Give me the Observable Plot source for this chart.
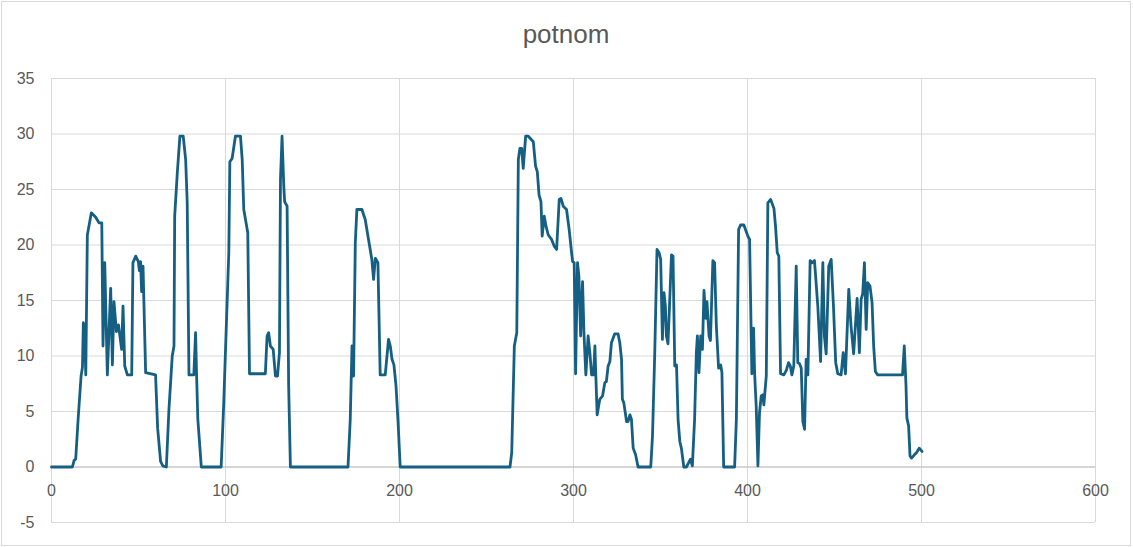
<!DOCTYPE html>
<html>
<head>
<meta charset="utf-8">
<script src="https://cdn.jsdelivr.net/npm/d3@7"></script>
<script src="https://cdn.jsdelivr.net/npm/@observablehq/plot@0.6"></script>
<style>
  html, body { margin: 0; padding: 0; background: #fff; }
  #chart {
    position: absolute; left: 1px; top: 1px;
    width: 1130px; height: 545px; box-sizing: border-box;
    border: 1px solid #d9d9d9; background: #fff;
    font-family: "Liberation Sans", Arial, sans-serif;
  }
  #title {
    height: 56px; box-sizing: border-box; padding-top: 19px;
    font-size: 26px; line-height: 26px; color: #595959; text-align: center;
  }
  #plot svg { display: block; }
</style>
</head>
<body>
<div id="chart">
  <div id="title"></div>
  <div id="plot"></div>
</div>
<script>
const chartTitle = "potnom";
const xTicks = [0, 100, 200, 300, 400, 500, 600];
const yTicks = [-5, 0, 5, 10, 15, 20, 25, 30, 35];

// read-off vertices of the series (x position, value)
const xs = [
  0, 12, 13, 13.9, 15.3, 17.0, 17.8, 18.3, 19.0, 19.7, 20.6, 22.9, 25.4, 27.3, 28.9,
  29.6, 30.6, 32.1, 34.0, 35.0, 35.9, 37.3, 38.5, 40.3, 41.1, 42.1, 43.6, 46.1,
  46.8, 48.4, 49.9, 50.5, 51.2, 51.8, 52.6, 54.1, 59.8, 61.0, 62.7, 64.0, 66.0,
  67.5, 69.4, 70.4, 70.8, 72.3, 73.8, 75.7, 77.1, 78.0, 79.0, 81.8, 82.8, 83.4, 84.1, 86.1,
  97.5, 99.0, 100.6, 101.9, 102.5, 103.8, 105.7, 108.6, 109.6, 110.5, 112.8, 113.8,
  122.9, 123.9, 124.8, 125.8, 127.4, 128.7, 129.9,
  131.0, 131.6, 132.5, 133.5, 134.0, 135.4, 136.3, 137.3,
  170.4, 171.7, 172.7, 173.6, 174.6, 175.5, 178.4, 180.3, 182.2, 184.1, 185.1, 186.1, 187.6,
  188.9, 191.8, 193.7, 194.7, 195.7, 196.8, 198.0, 199.2, 200.4,
  263.5, 264.5, 266.0, 267.4, 268.3, 269.2, 270.2, 271.1, 272.5, 274.0, 276.9, 278.2, 279.2,
  280.2, 281.3, 282.0, 283.2, 284.2, 285.5, 287.4, 288.9, 290.3, 291.8, 292.8, 294.1, 296.0,
  297.5, 298.9, 299.5, 300.4, 301.2, 302.3, 303.1, 304.1, 305.2, 306.0, 307.1, 308.4, 309.4,
  310.4, 311.5, 312.3, 312.8, 313.6, 315.1, 316.7, 318.0, 318.9, 319.9, 320.9, 321.8, 323.7,
  325.6, 326.6, 327.6, 328.1, 328.9, 330.5, 331.4, 332.4, 333.3, 334.3, 335.7, 337.1,
  344.4, 345.4, 346.7, 348.0, 349.2, 350.1, 351.1, 352.0, 352.8, 353.4, 354.3, 355.3, 356.3,
  357.2, 358.2, 359.2, 360.1, 361.1, 362.0, 363.4, 364.9, 366.2, 367.2, 368.3, 369.6, 370.6,
  371.2, 372.1, 373.1, 374.1, 375.0, 376.0, 376.7, 377.9, 378.7, 380.1, 381.1, 382.1, 383.4,
  384.6, 385.3, 386.3, 392.6, 393.6, 394.9, 396.0, 397.9, 399.3, 400.2, 401.2, 402.5, 403.5,
  404.1, 405.0, 406.0, 406.9, 407.9, 408.8, 409.4, 410.8, 411.7, 413.3, 415.2, 416.1, 417.1,
  418.0, 419.0, 420.9, 422.3, 423.6, 424.6, 425.5, 426.6, 428.0, 428.9, 429.9, 430.9, 431.8,
  432.8, 433.7, 434.7, 436.0, 437.2, 438.5, 440.4, 442.0, 443.3, 444.2, 445.2, 446.7, 448.1,
  449.4, 450.7, 451.9, 453.8, 455.0, 456.3, 458.2, 459.5, 461.0, 463.0, 464.3, 465.3, 466.2,
  467.2, 468.2, 469.1, 470.4, 471.6, 472.5, 473.5, 474.8, 489.1, 490.1, 491.1, 491.6, 492.6,
  493.4, 494.3, 495.9, 497.2, 498.7, 500.3
];
const ys = [
  0, 0, 0.6, 0.7, 4.3, 8.2, 9.0, 13.0, 12.5, 8.3, 20.9, 22.9, 22.5, 22.0, 22.0,
  10.9, 18.4, 8.3, 16.1, 9.2, 14.9, 12.2, 12.8, 10.6, 14.5, 9.1, 8.3, 8.3,
  18.4, 19.0, 18.5, 17.7, 18.5, 15.8, 18.1, 8.5, 8.3, 3.5, 0.5, 0.1, 0,
  5.2, 10.0, 10.9, 22.6, 26.5, 29.8, 29.8, 27.7, 23.8, 8.3, 8.3, 12.1, 8.2, 4.3, 0,
  0, 5.8, 13.3, 19.3, 27.5, 27.8, 29.8, 29.8, 27.7, 23.2, 21.1, 8.4,
  8.4, 11.8, 12.1, 10.9, 10.6, 8.2, 8.2,
  10.3, 25.9, 29.8, 25.3, 23.9, 23.5, 7.3, 0,
  0, 4.3, 10.9, 8.2, 20.2, 23.2, 23.2, 22.3, 20.5, 18.7, 16.9, 18.8, 18.4,
  8.3, 8.3, 11.5, 10.9, 9.7, 9.2, 7.3, 4.0, 0,
  0, 1.3, 10.9, 12.1, 27.7, 28.7, 28.7, 26.9, 29.8, 29.8, 29.3, 27.1, 26.6,
  24.5, 23.9, 20.8, 22.6, 21.7, 20.9, 20.5, 19.9, 19.6, 24.1, 24.2, 23.5, 23.2,
  21.4, 19.3, 18.5, 18.4, 8.4, 18.4, 17.2, 11.8, 16.7, 12.1, 8.3, 11.8, 10.3,
  8.3, 8.3, 10.9, 8.4, 4.7, 6.1, 6.4, 7.6, 7.7, 9.1, 9.5, 11.2, 12.0,
  12.0, 11.2, 9.7, 6.1, 5.8, 4.1, 4.1, 4.7, 4.3, 1.7, 1.1, 0,
  0, 2.8, 10.3, 19.6, 19.3, 18.7, 11.5, 15.7, 14.5, 11.8, 11.1, 15.0, 19.1,
  19.0, 9.1, 9.2, 4.3, 2.3, 1.7, 0, 0, 0.4, 0.7, 0.1, 4.3, 10.3,
  11.8, 8.5, 11.8, 10.6, 15.9, 13.4, 14.9, 11.8, 11.4, 18.6, 18.4, 12.7, 8.9,
  9.2, 8.5, 0, 0, 4.3, 21.4, 21.8, 21.8, 21.2, 20.8, 20.5, 8.4, 12.5,
  8.4, 5.5, 0.1, 4.9, 6.4, 6.5, 5.6, 8.2, 23.8, 24.1, 23.3, 21.7, 19.3,
  19.0, 8.4, 8.3, 8.7, 9.4, 9.1, 8.3, 9.1, 18.1, 9.4, 9.3, 8.9, 4.1,
  3.4, 9.7, 8.3, 18.6, 18.4, 18.6, 14.5, 9.5, 18.4, 11.8, 10.2, 18.1, 18.7,
  14.5, 9.4, 8.4, 8.3, 10.3, 8.4, 16.0, 12.7, 10.2, 15.2, 10.3, 15.1, 15.6,
  18.4, 12.4, 16.6, 16.3, 14.8, 10.9, 8.6, 8.3, 8.3, 10.9, 7.3, 4.4, 3.7,
  1.0, 0.8, 1.1, 1.3, 1.7, 1.4
];

const data = xs.map((x, i) => ({x, y: ys[i]}));

document.getElementById("title").textContent = chartTitle;

const gridColor = "#d9d9d9";
const textColor = "#595959";

const chart = Plot.plot({
  width: 1128,
  height: 487,
  marginLeft: 49,
  marginRight: 35,
  marginTop: 20,
  marginBottom: 23,
  style: {fontFamily: '"Liberation Sans", Arial, sans-serif', background: "#fff", color: textColor},
  x: {domain: [0, 600], axis: null},
  y: {domain: [-5, 35], axis: null},
  marks: [
    Plot.gridX(xTicks, {stroke: gridColor, strokeOpacity: 1, strokeWidth: 1}),
    Plot.gridY(yTicks, {stroke: gridColor, strokeOpacity: 1, strokeWidth: 1}),
    Plot.ruleY([0], {stroke: "#bfbfbf", strokeWidth: 1}),
    Plot.axisY(yTicks, {tickSize: 0, tickPadding: 17, fontSize: 16, fill: textColor, label: null, tickFormat: d => String(d)}),
    Plot.text(xTicks, {x: d => d, y: 0, dy: 24, text: d => String(d), fontSize: 16, fill: textColor, textAnchor: "middle"}),
    Plot.line(data, {x: "x", y: "y", stroke: "#156082", strokeWidth: 2.8, strokeLinejoin: "round", strokeLinecap: "round"})
  ]
});
document.getElementById("plot").appendChild(chart);
</script>
</body>
</html>
